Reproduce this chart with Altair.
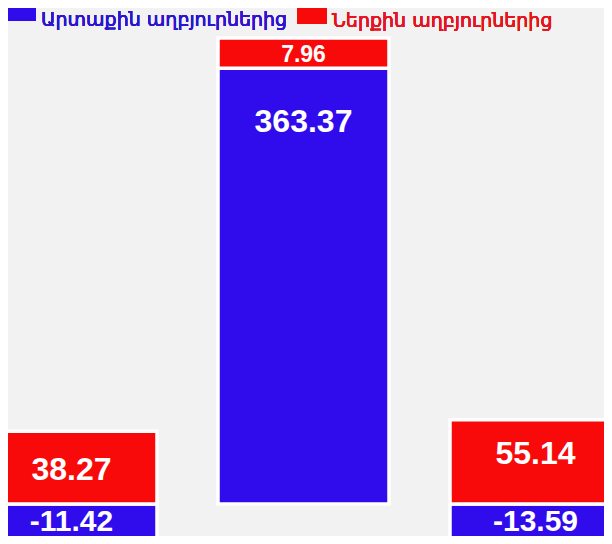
import altair as alt
import pandas as pd

# ---- data ----
categories = ["1", "2", "3"]
series_names = ["Արտաքին աղբյուրներից", "Ներքին աղբյուրներից"]
external_values = [-11.42, 363.37, -13.59]
internal_values = [38.27, 7.96, 55.14]
series_colors = ["#300cec", "#f80a0a"]
legend_text_colors = ["#2d14d0", "#e5141e"]

rows = []
for i, c in enumerate(categories):
    rows.append({"cat": c, "series": series_names[0], "value": external_values[i], "order": 0})
    rows.append({"cat": c, "series": series_names[1], "value": internal_values[i], "order": 1})
df = pd.DataFrame(rows)

# broken (piecewise) value axis, as in the original picture
yscale = alt.Scale(domain=[-15, 0, 40, 60, 360, 375],
                   range=[541, 496, 420, 409, 73, 16],
                   zero=False, nice=False)
xscale = alt.Scale(domain=categories, range=[-22, 613], paddingInner=0.263, paddingOuter=0)

base = alt.Chart(df).transform_stack(
    stack="value", groupby=["cat"], as_=["v0", "v1"],
    sort=[alt.SortField(field="order", order="ascending")]
).transform_calculate(
    mid="(datum.v0 + datum.v1) / 2",
    label="replace(format(datum.value, '.2f'), '\u2212', '-')",
)

x_enc = alt.X("cat:N", scale=xscale, axis=None)

bars = base.mark_bar(stroke="white", strokeWidth=3.5).encode(
    x=x_enc,
    y=alt.Y("v0:Q", scale=yscale, axis=None),
    y2="v1:Q",
    color=alt.Color("series:N", scale=alt.Scale(domain=series_names, range=series_colors), legend=None),
)

text_style = dict(color="white", font="Liberation Sans", fontWeight="bold", align="center")

label_size = alt.condition("abs(datum.value) < 10", alt.value(23), alt.value(32))

# positive, short segments: centred in the segment
labels_mid = base.transform_filter("datum.value > 0 && datum.value < 100").mark_text(
    baseline="middle", dy=2, **text_style
).encode(
    x=x_enc,
    y=alt.Y("mid:Q", scale=yscale, axis=None),
    text="label:N",
    size=label_size,
)

# tall segment: label near its top
labels_top = base.transform_filter("datum.value >= 100").mark_text(
    baseline="middle", dy=54, fontSize=32, **text_style
).encode(
    x=x_enc,
    y=alt.Y("v1:Q", scale=yscale, axis=None),
    text="label:N",
)

# negative segments: label hanging just below the zero line
labels_neg = base.transform_filter("datum.value < 0").mark_text(
    baseline="top", dy=3, fontSize=30, **text_style
).encode(
    x=x_enc,
    y=alt.Y("v0:Q", scale=yscale, axis=None),
    text="label:N",
)

# legend (top left, horizontal)
leg1_box = alt.Chart(df).mark_rect(color=series_colors[0]).encode(
    x=alt.value(0), x2=alt.value(28), y=alt.value(0), y2=alt.value(13))
leg1_txt = alt.Chart(df).mark_text(
    text=series_names[0], color=legend_text_colors[0], font="DejaVu Sans",
    fontSize=19, align="left", baseline="alphabetic").encode(x=alt.value(33), y=alt.value(18))
leg2_box = alt.Chart(df).mark_rect(color=series_colors[1]).encode(
    x=alt.value(289), x2=alt.value(319), y=alt.value(0), y2=alt.value(16))
leg2_txt = alt.Chart(df).mark_text(
    text=series_names[1], color=legend_text_colors[1], font="DejaVu Sans",
    fontSize=19, align="left", baseline="alphabetic").encode(x=alt.value(324), y=alt.value(19))

chart = alt.layer(bars, labels_mid, labels_top, labels_neg,
                  leg1_box, leg1_txt, leg2_box, leg2_txt).properties(
    width=596, height=528,
    autosize=alt.AutoSizeParams(type="none"),
    padding=0,
    background="#f2f2f2",
).configure_view(stroke=None)

chart.save("out.html", embed_options={"renderer": "svg", "actions": False})
